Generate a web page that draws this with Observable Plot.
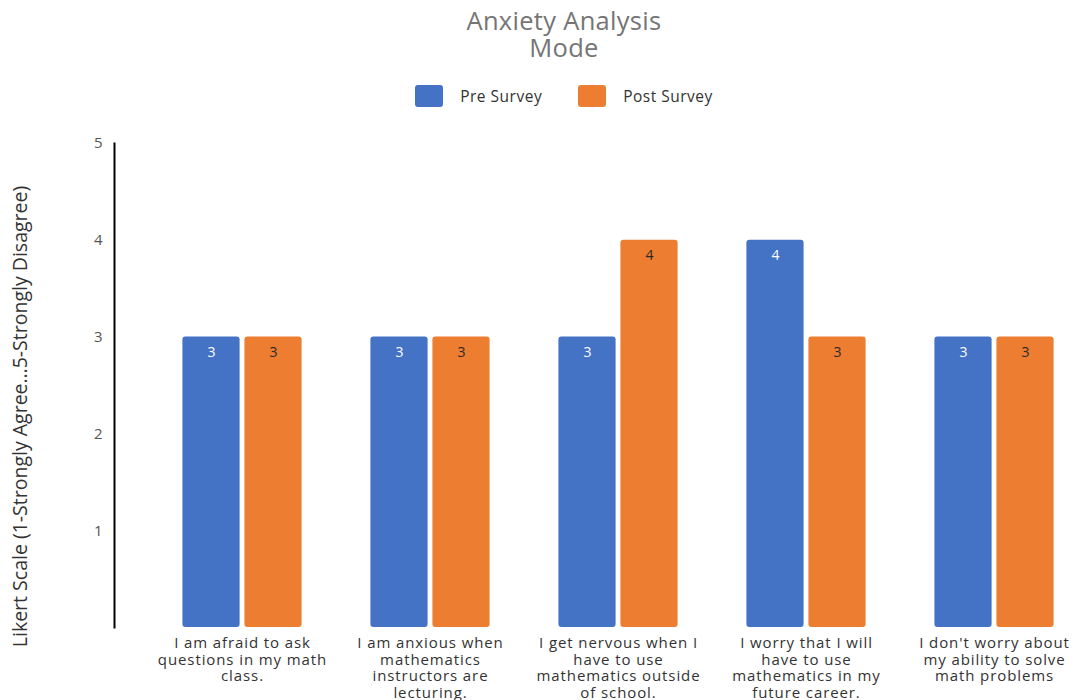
<!DOCTYPE html>
<html>
<head>
<meta charset="utf-8">
<script src="https://cdn.jsdelivr.net/npm/d3@7"></script>
<script src="https://cdn.jsdelivr.net/npm/@observablehq/plot@0.6"></script>
<style>
  html, body { margin: 0; padding: 0; background: #fff; overflow: hidden; }
  body { width: 1076px; height: 700px; font-family: "Open Sans", sans-serif; }
  #title { text-align: center; color: #757575; font-size: 25.5px; line-height: 27px; padding-top: 7px; padding-left: 52px; letter-spacing: 0.3px; }
  #legend { display: flex; justify-content: center; align-items: center; gap: 36px; margin-top: 24px; height: 22px; font-size: 15.5px; color: #333; padding-left: 52px; letter-spacing: 0.5px; }
  .item { display: flex; align-items: center; gap: 17px; }
  .sw { width: 28px; height: 22px; border-radius: 3px; }
  #chart { margin-top: 8px; }
  .xl text { letter-spacing: 0.9px; }
</style>
</head>
<body>
<div id="title">Anxiety Analysis<br>Mode</div>
<div id="legend"></div>
<div id="chart"></div>
<script>
const categories = [
  "I am afraid to ask\nquestions in my math\nclass.",
  "I am anxious when\nmathematics\ninstructors are\nlecturing.",
  "I get nervous when I\nhave to use\nmathematics outside\nof school.",
  "I worry that I will\nhave to use\nmathematics in my\nfuture career.",
  "I don't worry about\nmy ability to solve\nmath problems"
];
const preSurvey = [3, 3, 3, 4, 3];
const postSurvey = [3, 3, 4, 3, 3];
const seriesNames = ["Pre Survey", "Post Survey"];
const seriesColors = ["#4472C4", "#ED7D31"];
const yTicks = [1, 2, 3, 4, 5];
const yLabel = "Likert Scale (1-Strongly Agree…5-Strongly Disagree)";

const pre = categories.map((c, i) => ({category: c, value: preSurvey[i]}));
const post = categories.map((c, i) => ({category: c, value: postSurvey[i]}));

const legend = document.getElementById("legend");
seriesNames.forEach((s, i) => {
  const it = document.createElement("div");
  it.className = "item";
  it.innerHTML = `<div class="sw" style="background:${seriesColors[i]}"></div><span>${s}</span>`;
  legend.appendChild(it);
});

const chart = Plot.plot({
  width: 1076,
  height: 600,
  marginTop: 28,
  marginBottom: 88,
  marginLeft: 114,
  marginRight: 0,
  style: {fontFamily: "Open Sans, sans-serif", background: "#fff", overflow: "visible"},
  x: {domain: categories, paddingInner: 0.3, paddingOuter: 0.205, align: 0.785, label: null},
  y: {domain: [0, 5], label: null},
  marks: [
    Plot.barY(pre, {x: "category", y: "value", fill: seriesColors[0], insetLeft: 6.4, insetRight: 68.4, rx: 3}),
    Plot.barY(post, {x: "category", y: "value", fill: seriesColors[1], insetLeft: 68.4, insetRight: 6.4, rx: 3}),
    Plot.text(pre, {x: "category", y: "value", text: "value", dx: -31, dy: 15, fill: "white", fontSize: 14, fontWeight: 500}),
    Plot.text(post, {x: "category", y: "value", text: "value", dx: 31, dy: 15, fill: "#2a2a2a", fontSize: 14, fontWeight: 500}),
    Plot.axisY({ticks: yTicks, tickFormat: "d", tickSize: 0, tickPadding: 12, fontSize: 15, color: "#555", label: null}),
    Plot.axisX({tickSize: 0, tickPadding: 9, fontSize: 15, color: "#333", lineHeight: 1.1, label: null, textAnchor: "middle", className: "xl"}),
    Plot.frame({anchor: "left", stroke: "black", strokeWidth: 2}),
    Plot.text([yLabel], {frameAnchor: "left", rotate: -90, dx: -94, dy: 31, fontSize: 19.5, fill: "#333", textAnchor: "middle"})
  ]
});
document.getElementById("chart").appendChild(chart);
</script>
</body>
</html>
